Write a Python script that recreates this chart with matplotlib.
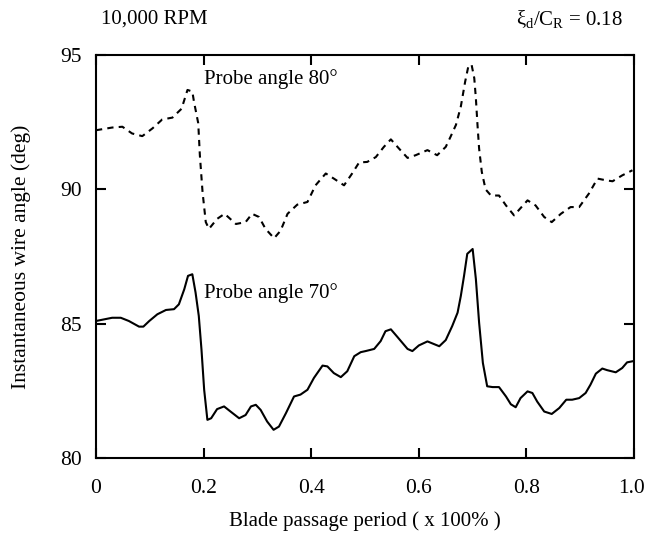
#!/usr/bin/env python3
"""Instantaneous wire angle over one blade passage period, two probe angles."""
import matplotlib
matplotlib.use("Agg")
import matplotlib.pyplot as plt
import matplotlib.transforms as mtransforms

plt.rcParams["font.family"] = ["Liberation Serif", "DejaVu Serif"]
plt.rcParams["mathtext.fontset"] = "custom"
plt.rcParams["mathtext.rm"] = "Liberation Serif"
plt.rcParams["mathtext.it"] = "Liberation Serif"

# probe angle 80 deg (dashed)
x80 = [0.0, 0.03, 0.049, 0.067, 0.086, 0.105, 0.123, 0.142, 0.159, 0.17, 0.179,
       0.182, 0.19, 0.193, 0.198, 0.204, 0.21, 0.225, 0.239, 0.26, 0.278, 0.29,
       0.303, 0.315, 0.331, 0.343, 0.356, 0.374, 0.393, 0.408, 0.427, 0.442,
       0.461, 0.476, 0.489, 0.504, 0.52, 0.535, 0.548, 0.563, 0.579, 0.594,
       0.616, 0.634, 0.65, 0.659, 0.669, 0.678, 0.686, 0.692, 0.698, 0.703,
       0.706, 0.709, 0.712, 0.717, 0.724, 0.734, 0.749, 0.762, 0.777, 0.789,
       0.802, 0.817, 0.833, 0.847, 0.864, 0.882, 0.898, 0.916, 0.932, 0.947,
       0.96, 0.978, 0.997]
y80 = [92.2, 92.3, 92.33, 92.08, 91.98, 92.27, 92.6, 92.67, 93.0, 93.7, 93.64,
       93.27, 92.46, 91.27, 89.9, 88.78, 88.53, 88.9, 89.09, 88.71, 88.78, 89.09,
       88.97, 88.53, 88.18, 88.46, 89.09, 89.43, 89.53, 90.15, 90.59, 90.4,
       90.15, 90.59, 91.0, 91.02, 91.2, 91.58, 91.86, 91.52, 91.17, 91.27,
       91.46, 91.27, 91.58, 91.96, 92.4, 93.08, 94.0, 94.58, 94.64, 94.14,
       93.39, 92.4, 91.52, 90.65, 90.0, 89.77, 89.77, 89.4, 89.03, 89.3,
       89.59, 89.4, 88.97, 88.78, 89.09, 89.34, 89.34, 89.84, 90.4, 90.34,
       90.3, 90.52, 90.71]

# probe angle 70 deg (solid)
x70 = [0.0, 0.015, 0.03, 0.046, 0.061, 0.08, 0.088, 0.099, 0.114, 0.13, 0.145,
       0.154, 0.164, 0.171, 0.179, 0.185, 0.191, 0.196, 0.201, 0.207, 0.214,
       0.225, 0.238, 0.25, 0.266, 0.278, 0.288, 0.297, 0.306, 0.318, 0.33,
       0.34, 0.353, 0.368, 0.38, 0.393, 0.405, 0.421, 0.43, 0.442, 0.455,
       0.467, 0.48, 0.492, 0.501, 0.517, 0.529, 0.538, 0.548, 0.56, 0.579,
       0.588, 0.6, 0.616, 0.638, 0.65, 0.662, 0.672, 0.678, 0.684, 0.69, 0.7,
       0.706, 0.712, 0.719, 0.727, 0.737, 0.749, 0.762, 0.771, 0.78, 0.789,
       0.802, 0.811, 0.82, 0.833, 0.847, 0.861, 0.874, 0.885, 0.898, 0.91,
       0.919, 0.929, 0.941, 0.95, 0.966, 0.978, 0.987, 0.997]
y70 = [85.1, 85.16, 85.22, 85.22, 85.1, 84.89, 84.89, 85.1, 85.35, 85.51, 85.54,
       85.72, 86.28, 86.78, 86.84, 86.16, 85.29, 84.04, 82.54, 81.42, 81.48,
       81.82, 81.92, 81.73, 81.48, 81.6, 81.92, 81.98, 81.79, 81.36, 81.05,
       81.17, 81.67, 82.29, 82.36, 82.54, 82.98, 83.44, 83.41, 83.16, 83.01,
       83.23, 83.79, 83.94, 83.98, 84.06, 84.35, 84.72, 84.79, 84.51, 84.06,
       83.98, 84.19, 84.34, 84.16, 84.39, 84.91, 85.41, 86.03, 86.78, 87.6, 87.78,
       86.66, 85.04, 83.54, 82.67, 82.64, 82.64, 82.29, 82.0, 81.89, 82.23,
       82.48, 82.42, 82.1, 81.73, 81.64, 81.86, 82.17, 82.17, 82.23, 82.42,
       82.73, 83.14, 83.33, 83.27, 83.19, 83.35, 83.56, 83.6]

xticks = [0, 0.2, 0.4, 0.6, 0.8, 1.0]
xticklabels = ["0", "0.2", "0.4", "0.6", "0.8", "1.0"]
yticks = [80, 85, 90, 95]

fig = plt.figure(figsize=(6.47, 5.34), dpi=100)
ax = fig.add_axes([0.1484, 0.1423, 0.8316, 0.7547])

ax.plot(x80, y80, color="black", lw=1.5, dashes=(3, 2.5))
ax.plot(x70, y70, color="black", lw=1.5)

ax.text(0.2, 94.1, "Probe angle 80°", fontsize=15, va="center")
ax.text(0.2, 86.15, "Probe angle 70°", fontsize=15, va="center")

ax.set_xlim(0, 1.0)
ax.set_ylim(80, 95)
ax.set_xticks(xticks)
ax.set_xticklabels(xticklabels)
ax.set_yticks(yticks)
ax.tick_params(direction="in", length=7, width=1.5, top=True, right=True,
               labelsize=15.5)
ax.tick_params(axis="x", pad=15)
ax.tick_params(axis="y", pad=10)
for s in ax.spines.values():
    s.set_linewidth(1.5)
# last x tick label sits right at the figure edge, nudge it in a few px
last = ax.get_xticklabels()[-1]
last.set_transform(last.get_transform() +
                   mtransforms.ScaledTranslation(-3 / 100, 0, fig.dpi_scale_trans))

ax.set_xlabel("Blade passage period ( x 100% )", fontsize=15, labelpad=10)
ax.set_ylabel("Instantaneous wire angle (deg)", fontsize=15.5, labelpad=21)

fig.text(0.156, 0.965, "10,000 RPM", fontsize=15, va="center")
fig.text(0.963, 0.965, r"$\xi_\mathrm{d}/C_\mathrm{R}$ = 0.18", fontsize=15,
         va="center", ha="right")

fig.savefig("out.png", dpi=100)
